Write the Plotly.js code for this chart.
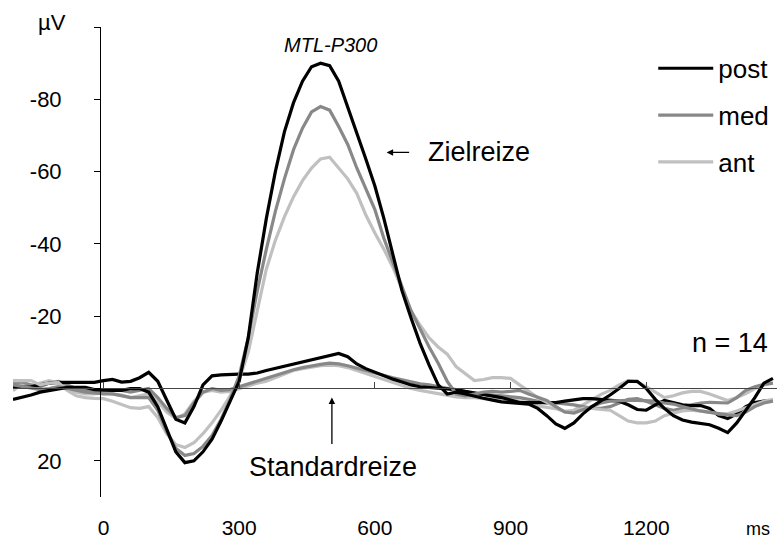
<!DOCTYPE html>
<html>
<head>
<meta charset="utf-8">
<script src="https://cdn.plot.ly/plotly-3.0.1.min.js"></script>
<style>html,body{margin:0;padding:0;background:#fff;}#chart{width:777px;height:540px;}</style>
</head>
<body>
<div id="chart"></div>
<script>
// Time axis (ms)
const timeMs = [-200,-180,-160,-140,-120,-100,-80,-60,-40,-20,
  0,20,40,60,80,100,120,140,160,180,
  200,220,240,260,280,300,320,340,360,380,
  400,420,440,460,480,500,520,540,560,580,
  600,620,640,660,680,700,720,740,760,780,
  800,820,840,860,880,900,920,940,960,980,
  1000,1020,1040,1060,1080,1100,1120,1140,1160,1180,
  1200,1220,1240,1260,1280,1300,1320,1340,1360,1380,
  1400,1420,1440,1460,1480];

// Zielreize (target) – amplitudes in µV
const targetPost = [3,2.5,1.8,1,0.5,0,-0.3,-0.3,-0.3,0.3,
  0.5,0.5,0.5,0,0,1,5,11.5,17.5,20.5,
  20,17.5,14,9,3.5,-2,-14,-32,-47,-60,
  -71,-79,-85,-89,-90,-89.3,-85,-78,-71,-63.5,
  -56,-47,-37,-27,-19.5,-12.5,-6.5,-1,1.5,1,
  1.5,2.2,2.7,3.2,3.7,3.9,4,4.3,5.5,7.5,
  9.8,11,9.5,7,5,3.5,1.8,0,-2,-2,
  0,3,5.5,7.5,8.7,9.3,9.7,10,11,12.2,
  9.5,6,2.5,-1.5,-2.8];
const targetMed = [-1,-0.5,0,0.3,0,-0.5,0,0.5,1,1.2,
  1.5,1.5,2,2.5,2.5,2.5,6,12,16.5,18.5,
  18,16,13,8.5,3,-3.5,-14,-27,-38.5,-49,
  -58,-66,-72,-76.5,-78,-77,-72.5,-67.5,-61,-55,
  -49.5,-41.5,-35,-28,-21.5,-16.5,-11.5,-7,-2,1.5,
  2,1.5,1,0.8,1,0.8,0.5,1.5,2.5,3.3,
  5,6.5,6.8,5.8,4.8,4,3.5,3.3,3.3,3.3,
  3.3,3.5,4,4.3,5,5.7,6.2,6.6,7,7.3,
  7.5,6.5,5,4,3.5];
const targetAnt = [-2.2,-2.2,-2.2,-1,-1.5,-1.7,0.5,2,2.5,2.7,
  2.8,3.5,4.5,5.3,5.5,5,8,12.5,15.5,16.3,
  15,12.5,9.5,6,2,-2.5,-10,-22,-33,-41,
  -47.5,-53,-57.5,-61,-63.5,-64,-61,-58,-54,-48,
  -43,-38.5,-33.5,-27.5,-21.5,-17.5,-14,-11.5,-9.5,-6,
  -4,-2.2,-2.5,-3,-3,-2.8,-1,0.8,2.5,3.8,
  5,6.5,6.2,5.5,5.5,5.8,6,7.5,9,9.5,
  9.5,9,7.5,6.8,6.2,6,6.2,6.5,7,7,
  6.2,5.3,4.5,3.5,3];

// Standardreize (standard) – amplitudes in µV
const standardPost = [-0.3,-0.3,-0.5,-1,-1.5,-1.7,-1.7,-1.7,-1.7,-1.7,
  -2.2,-2.5,-1.8,-2,-3,-4.5,-2,3.5,8.5,9.5,
  5,-1,-3.5,-3.8,-4,-4,-4,-4.3,-5,-5.6,
  -6.2,-6.8,-7.4,-8,-8.6,-9.3,-9.7,-8.8,-6.8,-5.5,
  -4.5,-3.6,-2.6,-1.8,-1,-0.5,-0.3,0,0,0.3,
  0.8,1.2,1.6,2,2.5,3.2,3.9,3.9,3.9,3.9,
  3.9,3.5,3.2,2.8,2.8,3,3.2,3.5,4.5,5.8,
  6,4.5,3.3,3.8,4.5,4.7,4.7,5.5,7.5,8.3,
  7,5,3.9,3.5,3.3];
const standardMed = [-1.5,-1.8,-1,-0.5,-1.5,-2,-1,0,0.5,0.5,
  0.3,0.5,0.5,1,0.5,0,2.5,5.5,8,7.5,
  4,1,0,0.5,0.3,-0.5,-1.2,-2,-2.7,-3.5,
  -4.3,-5.2,-5.8,-6.3,-6.7,-7,-6.8,-6.3,-5.6,-5,
  -4.2,-3.6,-3,-2.4,-1.8,-1.3,-1,-0.5,0,0.5,
  1,1.4,1.6,1.8,2,2.2,2.5,3,3.5,4,
  4,4.2,4.5,5,5.5,5.5,5,4,3,2.8,
  3.5,4.5,5.5,6,5.5,4.5,4,3.8,4,4,
  2.5,0.5,-0.5,-1.2,-1.5];
const standardAnt = [0.6,-1.4,-0.5,-1.5,-2.2,-1.5,0,1,1.5,1.5,
  1.2,1.4,1.8,2.5,2,1.5,3.5,6.5,8.3,7,
  3.5,1,0.5,1,0.8,0,-0.8,-1.5,-2,-3,
  -4,-5,-5.5,-6,-6.3,-6.5,-6.3,-5.8,-5,-4.2,
  -3.3,-2.5,-1.6,-0.8,0,0.5,1,1.5,2,2.3,
  2.5,2.5,2.8,3,3.2,3,3.5,4,4.8,5.2,
  5.6,6.3,6,4.5,3,1.6,0.5,-1,-2.2,-1.8,
  -0.5,1,2.5,2,1.2,0.8,0.8,1.5,2.5,3.3,
  2.5,1.4,0,-1,-1.5];

// Axis ticks
const xTickVals = [0,300,600,900,1200];
const xTickText = ['0','300','600','900','1200'];
const yTickVals = [-100,-80,-60,-40,-20,0,20];
const yTickText = ['','-80','-60','-40','-20','','20'];

const colPost = '#000000', colMed = '#888888', colAnt = '#c0c0c0';
const LW = 3.2;

function tr(y, color, name, show, rank){
  return {x: timeMs, y: y, type:'scatter', mode:'lines', name: name,
    line:{color: color, width: LW}, showlegend: show, legendgroup: name, legendrank: rank,
    hoverinfo:'skip'};
}

const data = [
  tr(standardAnt, colAnt, 'ant', false, 3),
  tr(standardMed, colMed, 'med', false, 2),
  tr(standardPost, colPost, 'post', false, 1),
  tr(targetAnt, colAnt, 'ant', true, 3),
  tr(targetMed, colMed, 'med', true, 2),
  tr(targetPost, colPost, 'post', true, 1)
];

const FONT = '"Liberation Sans", Arial, sans-serif';

const layout = {
  width: 777, height: 540,
  margin: {l: 13, r: 0, t: 27, b: 43, pad: 0},
  paper_bgcolor: '#ffffff', plot_bgcolor: '#ffffff',
  font: {family: FONT, size: 22, color: '#000'},
  showlegend: true,
  legend: {x: 0.838, y: 0.962, xanchor: 'left', yanchor: 'top',
    font: {family: FONT, size: 26, color: '#000'}, itemwidth: 55,
    tracegroupgap: 10, bgcolor: 'rgba(0,0,0,0)', borderwidth: 0},
  xaxis: {range: [-200, 1489], anchor: 'free', position: 0.2319,
    showline: true, linecolor: '#444', linewidth: 1,
    ticks: 'inside', ticklen: 6, tickcolor: '#444', tickwidth: 1,
    tickmode: 'array', tickvals: xTickVals, ticktext: xTickText,
    showgrid: false, zeroline: false, ticklabelstandoff: 121,
    tickfont: {family: FONT, size: 21, color: '#000'}},
  yaxis: {range: [30, -100], anchor: 'free', position: 0.1139,
    showline: true, linecolor: '#000', linewidth: 1,
    ticks: 'outside', ticklen: 6, tickcolor: '#000', tickwidth: 1,
    tickmode: 'array', tickvals: yTickVals, ticktext: yTickText,
    showgrid: false, zeroline: false, ticklabelstandoff: 28,
    tickfont: {family: FONT, size: 22, color: '#000'}},
  annotations: [
    {text: 'µV', xref: 'paper', yref: 'paper', x: 0.051, y: 1.0106,
      xanchor: 'center', yanchor: 'middle', showarrow: false,
      font: {family: FONT, size: 22}},
    {text: '<i>MTL-P300</i>', xref: 'x', yref: 'y', x: 503, y: -95, showarrow: false,
      font: {family: FONT, size: 20}},
    {text: '', xref: 'x', yref: 'y', x: 626, y: -65.3, ax: 24, ay: 0,
      showarrow: true, arrowhead: 2, arrowsize: 1, arrowwidth: 1.3, arrowcolor: '#000'},
    {text: 'Zielreize', xref: 'x', yref: 'y', x: 712, y: -65.3, xanchor: 'left',
      showarrow: false, font: {family: FONT, size: 27}},
    {text: '', xref: 'x', yref: 'y', x: 505, y: 2.5, ax: 0, ay: 48,
      showarrow: true, arrowhead: 2, arrowsize: 1, arrowwidth: 1.3, arrowcolor: '#000'},
    {text: 'Standardreize', xref: 'x', yref: 'y', x: 508, y: 21.6,
      showarrow: false, font: {family: FONT, size: 27}},
    {text: 'n = 14', xref: 'x', yref: 'y', x: 1385, y: -12.7,
      showarrow: false, font: {family: FONT, size: 27}},
    {text: 'ms', xref: 'x', yref: 'paper', x: 1447, y: -0.068,
      xanchor: 'center', yanchor: 'middle',
      showarrow: false, font: {family: FONT, size: 18}}
  ]
};

Plotly.newPlot('chart', data, layout, {staticPlot: true, displayModeBar: false});
</script>
</body>
</html>
